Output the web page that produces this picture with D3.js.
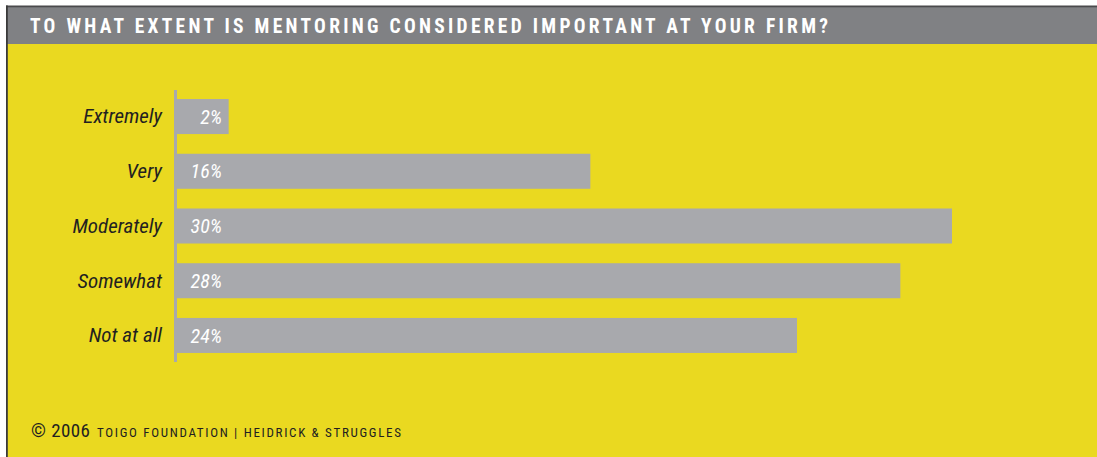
<!DOCTYPE html>
<html>
<head>
<meta charset="utf-8">
<script src="https://cdn.jsdelivr.net/npm/d3@7"></script>
<style>
  html, body { margin: 0; padding: 0; background: #ffffff; }
  svg { display: block; }
</style>
</head>
<body>
<svg id="chart" width="1097" height="457"></svg>
<script>
// Survey responses: how important mentoring is considered at the firm
const categories = ["Extremely", "Very", "Moderately", "Somewhat", "Not at all"];
const percentages = [2, 16, 30, 28, 24];
const valueLabels = ["2%", "16%", "30%", "28%", "24%"];

const title = "TO WHAT EXTENT IS MENTORING CONSIDERED IMPORTANT AT YOUR FIRM?";
const footerYear = "\u00A9 2006";
const footerText = "TOIGO FOUNDATION | HEIDRICK & STRUGGLES";

const W = 1097, H = 457;
const narrow = "'Liberation Sans Narrow', 'Arial Narrow', 'Roboto Condensed', 'Liberation Sans', sans-serif";

const svg = d3.select("#chart");

// panel background
svg.append("rect").attr("x", 7).attr("y", 7).attr("width", W - 7).attr("height", H - 7)
  .attr("fill", "#EAD920");
// header strip
svg.append("rect").attr("x", 7).attr("y", 7).attr("width", W - 7).attr("height", 37)
  .attr("fill", "#808184");
// thin dark frame lines on top and left
svg.append("rect").attr("x", 6).attr("y", 5.5).attr("width", W - 6).attr("height", 1.8)
  .attr("fill", "#4a4a4c");
svg.append("rect").attr("x", 6).attr("y", 5.5).attr("width", 1.8).attr("height", H - 5.5)
  .attr("fill", "#3a3a3a");

// title
svg.append("text")
  .attr("x", 30).attr("y", 33)
  .attr("font-family", narrow)
  .attr("font-weight", "bold")
  .attr("font-size", 19.5)
  .attr("fill", "#ffffff")
  .attr("textLength", 798)
  .attr("lengthAdjust", "spacing")
  .text(title);

// scales
const x = d3.scaleLinear().domain([0, 30]).range([177, 952]);
const y = d3.scaleBand().domain(categories).range([90, 362])
  .paddingInner(0.36).paddingOuter(0.165);

const data = categories.map((c, i) => ({ cat: c, val: percentages[i], label: valueLabels[i] }));

// bars
svg.append("g").selectAll("rect")
  .data(data).join("rect")
  .attr("x", x(0))
  .attr("y", d => y(d.cat))
  .attr("width", d => x(d.val) - x(0))
  .attr("height", y.bandwidth())
  .attr("fill", "#A8A9AD");

// vertical baseline
svg.append("line")
  .attr("x1", x(0) - 1.5).attr("x2", x(0) - 1.5)
  .attr("y1", 90).attr("y2", 362)
  .attr("stroke", "#A8A9AD").attr("stroke-width", 3);

// category labels
svg.append("g").selectAll("text")
  .data(data).join("text")
  .attr("x", 162)
  .attr("y", d => y(d.cat) + y.bandwidth() / 2)
  .attr("dy", "0.33em")
  .attr("text-anchor", "end")
  .attr("font-family", narrow)
  .attr("font-style", "italic")
  .attr("font-size", 21)
  .attr("fill", "#231f20")
  .text(d => d.cat);

// value labels inside bars
svg.append("g").selectAll("text")
  .data(data).join("text")
  .attr("x", x(0) + 45)
  .attr("y", d => y(d.cat) + y.bandwidth() / 2)
  .attr("dy", "0.36em")
  .attr("text-anchor", "end")
  .attr("font-family", narrow)
  .attr("font-style", "italic")
  .attr("font-size", 20)
  .attr("fill", "#ffffff")
  .text(d => d.label);

// footer credit
svg.append("text")
  .attr("x", 31).attr("y", 437)
  .attr("font-family", narrow)
  .attr("font-size", 19)
  .attr("fill", "#231f20")
  .attr("textLength", 59)
  .attr("lengthAdjust", "spacing")
  .text(footerYear);
svg.append("text")
  .attr("x", 97).attr("y", 437)
  .attr("font-family", narrow)
  .attr("font-size", 13)
  .attr("fill", "#231f20")
  .attr("textLength", 304)
  .attr("lengthAdjust", "spacing")
  .text(footerText);
</script>
</body>
</html>
